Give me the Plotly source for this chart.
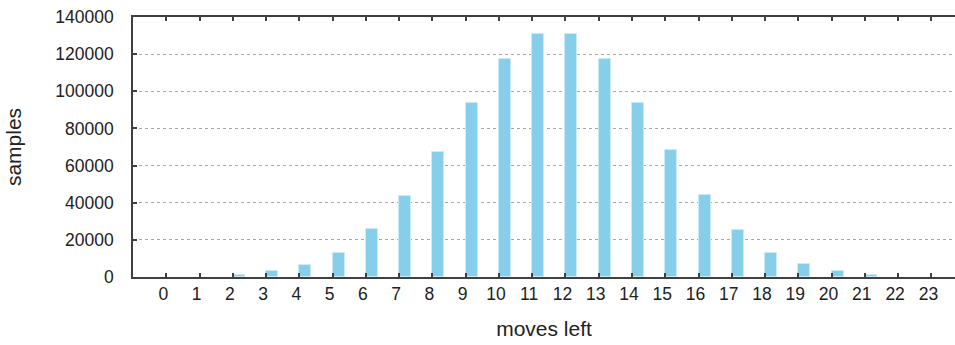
import plotly.graph_objects as go

moves_left = list(range(24))
samples = [0, 0, 1100, 3000, 6300, 13100, 25800, 43600, 67100, 93700,
           117200, 130700, 130700, 117200, 93700, 68200, 44300, 25100,
           13100, 6800, 3000, 1100, 0, 0]
y_ticks = [0, 20000, 40000, 60000, 80000, 100000, 120000, 140000]

FONT = "Liberation Sans, Arial, sans-serif"
AX = "#404040"

fig = go.Figure()
fig.add_trace(go.Bar(
    x=moves_left, y=samples, width=0.36, offset=0,
    marker=dict(color="#87CEEB",
                line=dict(color="#c9ecf7",
                          width=[1 if v > 0 else 0 for v in samples])),
    showlegend=False,
))

fig.update_layout(
    width=955, height=345,
    margin=dict(l=133, r=0, t=17, b=68, pad=0),
    paper_bgcolor="white", plot_bgcolor="white",
    font=dict(family=FONT, size=17.5, color="#222222"),
    bargap=0,
)
fig.update_xaxes(
    range=[-1, 23.71], tickmode="array", tickvals=moves_left,
    ticktext=[str(v) for v in moves_left],
    ticks="inside", ticklen=4, tickwidth=1.5, tickcolor=AX,
    showline=True, linecolor=AX, linewidth=1.5, mirror="ticks",
    showgrid=False, zeroline=False, ticklabelshift=-3,
    title=dict(text="moves left", standoff=19),
)
fig.update_yaxes(
    range=[0, 140000], tickmode="array", tickvals=y_ticks,
    ticktext=[str(v) for v in y_ticks],
    ticks="inside", ticklen=4, tickwidth=1.5, tickcolor=AX,
    showline=True, linecolor=AX, linewidth=1.5, mirror=False,
    showgrid=True, gridcolor="#a8a8a8", griddash="dot", gridwidth=1,
    zeroline=False, ticklabelstandoff=14,
    title=dict(text="samples", standoff=28),
)

fig.write_html("out.html")
